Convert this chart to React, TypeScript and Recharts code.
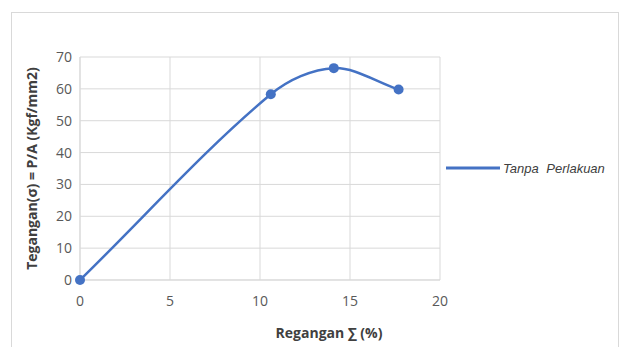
import {
  ComposedChart,
  Line,
  XAxis,
  YAxis,
  CartesianGrid,
  Legend,
} from "recharts";

// regangan (%) vs tegangan (kgf/mm2)
const strain = [0, 10.6, 14.1, 17.7];
const stress = [0, 58.3, 66.5, 59.8];
const xTicks = [0, 5, 10, 15, 20];
const yTicks = [0, 10, 20, 30, 40, 50, 60, 70];
const seriesName = "Tanpa Perlakuan";

const data = strain.map((x, i) => ({ x, y: stress[i] }));

const BLUE = "#4472c4";
const GRID = "#d9d9d9";
const TICK = "#595959";
const TITLE = "#404040";
const FONT = "'Open Sans', 'Noto Sans', sans-serif";

// smoothed line like Excel's: tangent at each point weighted by neighbouring segment lengths
function excelSmooth(context: any) {
  let pts: [number, number][] = [];
  const dist = (a: number[], b: number[]) => Math.hypot(b[0] - a[0], b[1] - a[1]);
  return {
    areaStart() {},
    areaEnd() {},
    lineStart() {
      pts = [];
    },
    point(x: number, y: number) {
      pts.push([+x, +y]);
    },
    lineEnd() {
      const n = pts.length;
      if (!n) return;
      context.moveTo(pts[0][0], pts[0][1]);
      for (let i = 0; i < n - 1; i++) {
        const p0 = pts[Math.max(i - 1, 0)];
        const p1 = pts[i];
        const p2 = pts[i + 1];
        const p3 = pts[Math.min(i + 2, n - 1)];
        const d01 = dist(p0, p1);
        const d12 = dist(p1, p2);
        const d23 = dist(p2, p3);
        const f1 = d12 / (d01 + d12 || 1) / 3;
        const f2 = d12 / (d12 + d23 || 1) / 3;
        context.bezierCurveTo(
          p1[0] + (p2[0] - p0[0]) * f1,
          p1[1] + (p2[1] - p0[1]) * f1,
          p2[0] - (p3[0] - p1[0]) * f2,
          p2[1] - (p3[1] - p1[1]) * f2,
          p2[0],
          p2[1]
        );
      }
    },
  };
}

function LegendBox() {
  return (
    <svg width={170} height={20}>
      <line x1={0} y1={9} x2={54} y2={9} stroke={BLUE} strokeWidth={3} />
      <text
        x={57}
        y={14}
        fontSize={13}
        fontStyle="italic"
        fill={TITLE}
        style={{ fontFamily: "'Liberation Sans', Arial, sans-serif", wordSpacing: 4 }}
      >
        {seriesName}
      </text>
    </svg>
  );
}

function XTitle(props: any) {
  const vb = props.viewBox || {};
  return (
    <text
      x={vb.x + vb.width / 2 + 69}
      y={338}
      textAnchor="middle"
      fontSize={14}
      fontWeight={700}
      fill={TITLE}
      style={{ fontFamily: FONT }}
    >
      Regangan ∑ (%)
    </text>
  );
}

export default function App() {
  return (
    <div
      style={{
        position: "absolute",
        left: 0,
        top: 0,
        width: 620,
        height: 347,
        background: "#fff",
        overflow: "hidden",
      }}
    >
      {/* frame */}
      <div
        style={{
          position: "absolute",
          left: 11,
          top: 12,
          width: 606,
          height: 345,
          border: `1px solid ${GRID}`,
          borderBottom: "none",
        }}
      />
      <div style={{ position: "absolute", left: 0, top: 0 }}>
        <ComposedChart
          width={620}
          height={347}
          data={data}
          margin={{ top: 57, right: 180, bottom: 7, left: 0 }}
        >
          <CartesianGrid stroke={GRID} strokeWidth={1} />
          <XAxis
            dataKey="x"
            type="number"
            domain={[0, 20]}
            ticks={xTicks}
            tick={{ fill: TICK, fontSize: 14, fontFamily: FONT }}
            tickLine={false}
            axisLine={{ stroke: GRID }}
            tickMargin={10}
            height={60}
            label={<XTitle />}
          />
          <YAxis
            type="number"
            domain={[0, 70]}
            ticks={yTicks}
            tick={{ fill: TICK, fontSize: 14, fontFamily: FONT }}
            tickLine={false}
            axisLine={{ stroke: GRID }}
            width={80}
            label={{
              value: "Tegangan(σ) = P/A (Kgf/mm2)",
              angle: -90,
              position: "insideLeft",
              offset: 32,
              style: {
                textAnchor: "middle",
                fontSize: 14,
                fontWeight: 700,
                fill: TITLE,
                fontFamily: FONT,
              },
            }}
          />
          <Legend
            layout="horizontal"
            verticalAlign="middle"
            align="center"
            wrapperStyle={{ left: 446, top: 159, width: 170 }}
            content={<LegendBox />}
          />
          <Line
            dataKey="y"
            name={seriesName}
            type={excelSmooth as any}
            stroke={BLUE}
            strokeWidth={2.5}
            dot={{ r: 5, fill: BLUE, stroke: BLUE, strokeWidth: 0 }}
            isAnimationActive={false}
          />
        </ComposedChart>
      </div>
    </div>
  );
}
